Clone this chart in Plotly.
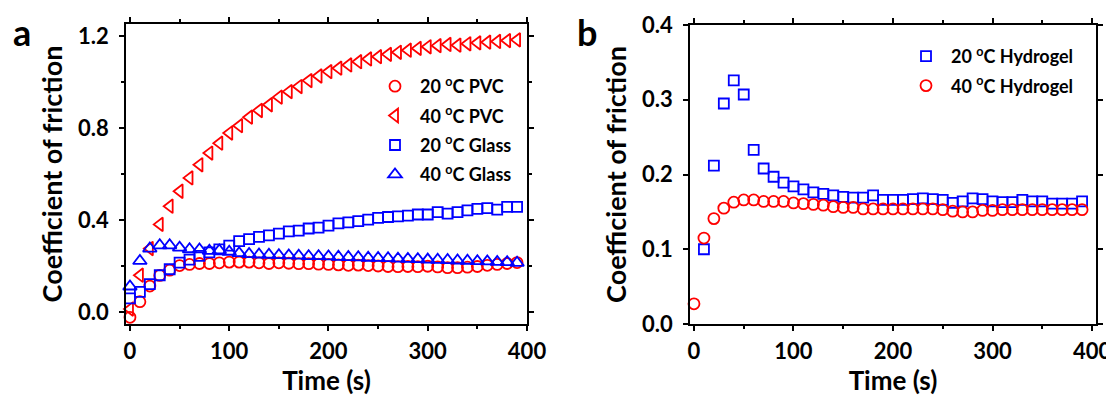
import plotly.graph_objects as go

# ---------------- data ----------------
time_a = list(range(0, 400, 10))
pvc_20 = [-0.023, 0.045, 0.113, 0.159, 0.182, 0.202, 0.207, 0.211, 0.211, 0.214,
          0.217, 0.217, 0.217, 0.214, 0.211, 0.214, 0.212, 0.210, 0.210, 0.208,
          0.207, 0.205, 0.203, 0.204, 0.202, 0.200, 0.198, 0.197, 0.198, 0.197,
          0.199, 0.196, 0.193, 0.193, 0.195, 0.198, 0.203, 0.207, 0.211, 0.215]
pvc_40 = [0.013, 0.160, 0.276, 0.381, 0.460, 0.525, 0.583, 0.640, 0.691, 0.734,
          0.778, 0.810, 0.847, 0.876, 0.901, 0.934, 0.958, 0.980, 1.006, 1.026,
          1.045, 1.060, 1.074, 1.088, 1.100, 1.110, 1.120, 1.129, 1.138, 1.146,
          1.153, 1.158, 1.163, 1.160, 1.166, 1.170, 1.173, 1.176, 1.180, 1.183]
glass_20 = [0.059, 0.088, 0.121, 0.160, 0.186, 0.215, 0.228, 0.244, 0.259, 0.272,
            0.289, 0.308, 0.317, 0.327, 0.333, 0.341, 0.351, 0.354, 0.363, 0.367,
            0.376, 0.385, 0.390, 0.395, 0.402, 0.409, 0.413, 0.416, 0.419, 0.424,
            0.424, 0.434, 0.428, 0.434, 0.442, 0.448, 0.452, 0.445, 0.457, 0.457]
glass_40 = [0.111, 0.222, 0.276, 0.290, 0.290, 0.280, 0.273, 0.272, 0.266, 0.268,
            0.262, 0.256, 0.252, 0.250, 0.249, 0.247, 0.246, 0.245, 0.243, 0.243,
            0.242, 0.240, 0.239, 0.238, 0.236, 0.235, 0.234, 0.232, 0.231, 0.230,
            0.228, 0.227, 0.226, 0.224, 0.223, 0.221, 0.220, 0.218, 0.217, 0.214]

time_hyd20 = list(range(10, 400, 10))
hyd_20 = [0.100, 0.212, 0.295, 0.326, 0.307, 0.233, 0.208, 0.197, 0.189, 0.184,
          0.180, 0.176, 0.174, 0.172, 0.170, 0.169, 0.169, 0.172, 0.166, 0.166,
          0.166, 0.167, 0.168, 0.167, 0.166, 0.162, 0.164, 0.168, 0.167, 0.164,
          0.163, 0.163, 0.166, 0.164, 0.164, 0.161, 0.161, 0.161, 0.164]
time_hyd40 = list(range(0, 400, 10))
hyd_40 = [0.027, 0.115, 0.141, 0.155, 0.163, 0.166, 0.166, 0.164, 0.164, 0.164,
          0.162, 0.161, 0.160, 0.159, 0.157, 0.156, 0.156, 0.154, 0.154, 0.154,
          0.154, 0.154, 0.154, 0.154, 0.154, 0.153, 0.151, 0.150, 0.150, 0.152,
          0.152, 0.153, 0.153, 0.153, 0.153, 0.153, 0.153, 0.153, 0.153, 0.153]

x_ticks = [0, 100, 200, 300, 400]
ya_ticks = [0.0, 0.4, 0.8, 1.2]
ya_labels = ["0.0", "0.4", "0.8", "1.2"]
yb_ticks = [0.0, 0.1, 0.2, 0.3, 0.4]
yb_labels = ["0.0", "0.1", "0.2", "0.3", "0.4"]

RED = "#FF0000"
BLUE = "#0000FF"
FONT = "Lato"

fig = go.Figure()


def add(x, y, name, symbol, color, size, xa, ya, legend):
    fig.add_trace(go.Scatter(
        x=x, y=y, mode="markers", name=name, legendgroup=name, legend=legend,
        xaxis=xa, yaxis=ya, cliponaxis=False,
        marker=dict(symbol=symbol, size=size, color=color,
                    line=dict(color=color, width=1.8)),
    ))


add(time_a, pvc_20, "20 <sup>o</sup>C PVC", "circle-open", RED, 11, "x", "y", "legend")
add(time_a, pvc_40, "40 <sup>o</sup>C PVC", "triangle-left-open", RED, 12, "x", "y", "legend")
add(time_a, glass_20, "20 <sup>o</sup>C Glass", "square-open", BLUE, 10, "x", "y", "legend")
add(time_a, glass_40, "40 <sup>o</sup>C Glass", "triangle-up-open", BLUE, 12, "x", "y", "legend")
add(time_hyd20, hyd_20, "20 <sup>o</sup>C Hydrogel", "square-open", BLUE, 10, "x2", "y2", "legend2")
add(time_hyd40, hyd_40, "40 <sup>o</sup>C Hydrogel", "circle-open", RED, 11, "x2", "y2", "legend2")

# page body has an 8px margin: figure is drawn 8px to the right/down
OFF = 8
FW, FH = 1114 - OFF, 396 - OFF


def px(x):
    return (x - OFF) / FW


def py(y):
    return 1 - (y - OFF) / FH


tickfont = dict(family=FONT, size=22, color="black", weight="bold")
ytitlefont = dict(family=FONT, size=27, color="black", weight="bold")
xtitlefont = dict(family=FONT, size=26, color="black", weight="bold")


def axis(**kw):
    base = dict(showline=True, linecolor="black", linewidth=1.5, mirror="allticks",
                ticks="outside", ticklen=5, tickwidth=1.5, tickcolor="black",
                showgrid=False, zeroline=False, tickfont=tickfont, automargin=False)
    base.update(kw)
    return base


minor_x = dict(ticks="outside", ticklen=3, tickwidth=1.5, tickcolor="black", dtick=50, tick0=0)

fig.update_layout(
    width=FW, height=FH,
    margin=dict(l=0, r=0, t=0, b=0, autoexpand=False),
    paper_bgcolor="white", plot_bgcolor="white",
    showlegend=True,
    xaxis=axis(domain=[px(126), px(527)], range=[-4, 400], anchor="y",
               tickvals=x_ticks, minor=minor_x, ticklabelstandoff=2,
               title=dict(text="Time (s)", font=xtitlefont, standoff=8)),
    yaxis=axis(domain=[py(324), py(24)], range=[-0.052, 1.252], anchor="x",
               tickvals=ya_ticks, ticktext=ya_labels, ticklabelstandoff=6,
               minor=dict(ticks="outside", ticklen=3, tickwidth=1.5,
                          tickcolor="black", dtick=0.2, tick0=0),
               title=dict(text="Coefficient of friction", font=ytitlefont, standoff=8)),
    xaxis2=axis(domain=[px(690), px(1096)], range=[-4, 404], anchor="y2",
                tickvals=x_ticks, minor=minor_x, ticklabelstandoff=2,
                title=dict(text="Time (s)", font=xtitlefont, standoff=8)),
    yaxis2=axis(domain=[py(324), py(25)], range=[0, 0.4], anchor="x2",
                tickvals=yb_ticks, ticktext=yb_labels, ticklabelstandoff=6,
                title=dict(text="Coefficient of friction", font=ytitlefont, standoff=8)),
    legend=dict(x=px(370), y=py(68), xanchor="left", yanchor="top",
                bgcolor="rgba(0,0,0,0)", tracegroupgap=3, itemwidth=40,
                font=dict(family=FONT, size=18, color="black", weight="bold")),
    legend2=dict(x=px(901), y=py(38), xanchor="left", yanchor="top",
                 bgcolor="rgba(0,0,0,0)", tracegroupgap=3, itemwidth=40,
                 font=dict(family=FONT, size=18, color="black", weight="bold")),
    annotations=[
        dict(text="a", x=px(12), y=py(9), xref="paper", yref="paper",
             xanchor="left", yanchor="top", showarrow=False, borderpad=0,
             font=dict(family=FONT, size=36, color="black", weight="bold")),
        dict(text="b", x=px(576), y=py(9), xref="paper", yref="paper",
             xanchor="left", yanchor="top", showarrow=False, borderpad=0,
             font=dict(family=FONT, size=36, color="black", weight="bold")),
    ],
)

fig.write_html("out.html")
